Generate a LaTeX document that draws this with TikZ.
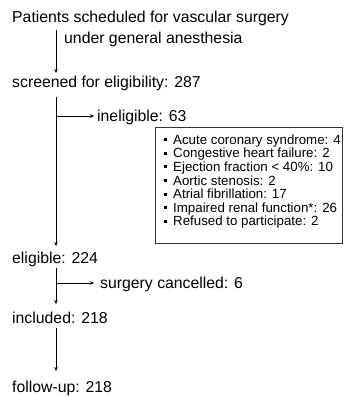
\documentclass[tikz,border=0pt]{standalone}
\usepackage{fontspec}
\setmainfont{Liberation Sans}
\usetikzlibrary{arrows.meta}
\begin{document}
\begin{tikzpicture}[x=1pt,y=-1pt,
  lbl/.style={anchor=base west,inner sep=0pt,font=\fontsize{15.8}{19}\selectfont},
  item/.style={anchor=base west,inner sep=0pt,font=\fontsize{13.3}{16}\selectfont},
  arr/.style={-{Stealth[length=4pt,width=3.5pt]},line width=0.7pt},
  bul/.style={fill=black,minimum size=3pt,inner sep=0pt}]
\useasboundingbox[fill=white] (0,0) rectangle (343,396);
\node[lbl] (title) at (12,23) {Patients scheduled for vascular surgery};
\node[lbl] (title2) at (64,44) {under general anesthesia};
\node[lbl] (scr) at (12,88) {screened for eligibility: 287};
\node[lbl] (inel) at (97,121) {ineligible: 63};
\node[lbl] (elig) at (12,263) {eligible: 224};
\node[lbl] (canc) at (100,288) {surgery cancelled: 6};
\node[lbl] (incl) at (12,323) {included: 218};
\node[lbl] (fup) at (12,392) {follow-up: 218};
\coordinate (a1) at (56,30);
\coordinate (a2) at (56,97);
\coordinate (b1) at (56,116);
\coordinate (a3) at (56,268);
\coordinate (b2) at (56,283);
\coordinate (a4) at (56,328);
\draw[arr] (a1) -- (a1 |- 0,73) coordinate (t1);
\draw[arr] (a2) -- (a2 |- 0,246) coordinate (t2);
\draw[arr] (b1) -- ([xshift=-3pt]inel.west |- b1);
\draw[arr] (a3) -- (a3 |- 0,304) coordinate (t3);
\draw[arr] (b2) -- ([xshift=-6pt]canc.west |- b2);
\draw[arr] (a4) -- (a4 |- 0,371) coordinate (t4);
\draw[line width=0.8pt,draw=black!80] (155,127) rectangle (342.5,243);
\foreach \t [count=\i] in {Acute coronary syndrome: 4,Congestive heart failure: 2,Ejection fraction < 40\%: 10,Aortic stenosis: 2,Atrial fibrillation: 17,Impaired renal function*: 26,Refused to participate: 2}{
  \node[item] (it\i) at (173,{130.6+13.6*\i}) {\t};
  \node[bul] (bu\i) at (165.5,{126+13.6*\i}) {};
}
\end{tikzpicture}
\end{document}
